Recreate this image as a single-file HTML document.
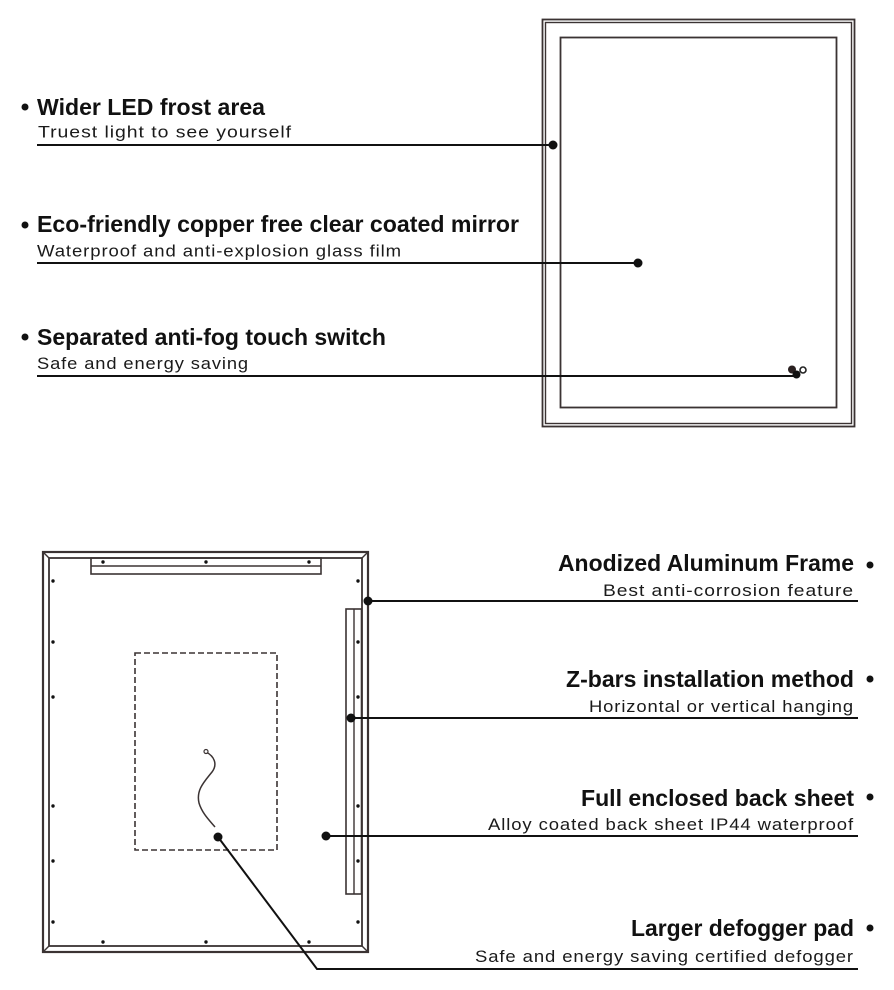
<!DOCTYPE html>
<html>
<head>
<meta charset="utf-8">
<style>
  html, body { margin: 0; padding: 0; background: #ffffff; }
  svg { display: block; }
  .h { font-family: "Liberation Sans", Arial, sans-serif; font-weight: bold; font-size: 23px; fill: #111; }
  .s { font-family: "Liberation Sans", Arial, sans-serif; font-size: 16.5px; letter-spacing: 0.8px; fill: #1a1a1a; }
  .fr { fill: none; stroke: #3b3333; }
  .ln { stroke: #111; stroke-width: 2; fill: none; }
</style>
</head>
<body>
<svg width="894" height="990" viewBox="0 0 894 990" xmlns="http://www.w3.org/2000/svg">
  <rect x="0" y="0" width="894" height="990" fill="#fff"/>

  <!-- ===== Top mirror (front) ===== -->
  <rect class="fr" x="542.5" y="19.5" width="312" height="407" stroke-width="1.8"/>
  <rect class="fr" x="545.5" y="22.5" width="306" height="401" stroke-width="1.4"/>
  <rect class="fr" x="560.5" y="37.5" width="276" height="370" stroke-width="1.8"/>

  <!-- Top left labels -->
  <circle cx="25" cy="107" r="3.5" fill="#111"/>
  <text class="h" x="37" y="115" textLength="228" lengthAdjust="spacingAndGlyphs">Wider LED frost area</text>
  <text class="s" x="38" y="137.5" textLength="254" lengthAdjust="spacingAndGlyphs">Truest light to see yourself</text>
  <line class="ln" x1="37" y1="145" x2="553" y2="145"/>
  <circle cx="553" cy="145" r="4.5" fill="#111"/>

  <circle cx="25" cy="225" r="3.5" fill="#111"/>
  <text class="h" x="37" y="232" textLength="482" lengthAdjust="spacingAndGlyphs">Eco-friendly copper free clear coated mirror</text>
  <text class="s" x="37" y="256.5" textLength="365" lengthAdjust="spacingAndGlyphs">Waterproof and anti-explosion glass film</text>
  <line class="ln" x1="37" y1="263" x2="638" y2="263"/>
  <circle cx="638" cy="263" r="4.5" fill="#111"/>

  <circle cx="25" cy="337" r="3.5" fill="#111"/>
  <text class="h" x="37" y="345" textLength="349" lengthAdjust="spacingAndGlyphs">Separated anti-fog touch switch</text>
  <text class="s" x="37" y="369" textLength="212" lengthAdjust="spacingAndGlyphs">Safe and energy saving</text>
  <line class="ln" x1="37" y1="376" x2="796" y2="376"/>
  <circle cx="792" cy="369.5" r="4" fill="#2a2020"/>
  <circle cx="796.5" cy="374.5" r="4" fill="#111"/>
  <circle cx="803" cy="370" r="3" fill="#fff" stroke="#222" stroke-width="1.6"/>

  <!-- ===== Bottom mirror (back) ===== -->
  <rect class="fr" x="43" y="552" width="325" height="400" stroke-width="2.2"/>
  <rect class="fr" x="49" y="558" width="313" height="388" stroke-width="1.8"/>
  <line class="fr" x1="43" y1="552" x2="49" y2="558" stroke-width="1.4"/>
  <line class="fr" x1="368" y1="552" x2="362" y2="558" stroke-width="1.4"/>
  <line class="fr" x1="43" y1="952" x2="49" y2="946" stroke-width="1.4"/>
  <line class="fr" x1="368" y1="952" x2="362" y2="946" stroke-width="1.4"/>

  <!-- top bar -->
  <rect class="fr" x="91" y="558" width="230" height="16" stroke-width="1.6"/>
  <line class="fr" x1="91" y1="566" x2="321" y2="566" stroke-width="1.4"/>
  <!-- right z-bar -->
  <rect class="fr" x="346" y="609" width="15.5" height="285" stroke-width="1.6"/>
  <line class="fr" x1="354" y1="609" x2="354" y2="894" stroke-width="1.4"/>

  <!-- screws -->
  <g fill="#111">
    <circle cx="103" cy="562" r="1.7"/><circle cx="206" cy="562" r="1.7"/><circle cx="309" cy="562" r="1.7"/>
    <circle cx="103" cy="942" r="1.7"/><circle cx="206" cy="942" r="1.7"/><circle cx="309" cy="942" r="1.7"/>
    <circle cx="53" cy="581" r="1.7"/><circle cx="53" cy="642" r="1.7"/><circle cx="53" cy="697" r="1.7"/>
    <circle cx="53" cy="806" r="1.7"/><circle cx="53" cy="861" r="1.7"/><circle cx="53" cy="922" r="1.7"/>
    <circle cx="358" cy="581" r="1.7"/><circle cx="358" cy="642" r="1.7"/><circle cx="358" cy="697" r="1.7"/>
    <circle cx="358" cy="806" r="1.7"/><circle cx="358" cy="861" r="1.7"/><circle cx="358" cy="922" r="1.7"/>
  </g>

  <!-- dashed defogger pad -->
  <rect x="135" y="653" width="142" height="197" fill="none" stroke="#3b3333" stroke-width="1.6" stroke-dasharray="6,3"/>
  <!-- wire -->
  <path d="M206,752 C214,756 218,764 212,772 C204,782 196,790 199,803 C202,813 209,820 215,827" fill="none" stroke="#3b3333" stroke-width="1.5"/>
  <circle cx="206" cy="751.5" r="2" fill="#fff" stroke="#3b3333" stroke-width="1.2"/>

  <!-- Right labels -->
  <text class="h" x="558" y="571" textLength="296" lengthAdjust="spacingAndGlyphs">Anodized Aluminum Frame</text>
  <circle cx="870" cy="565" r="3.5" fill="#111"/>
  <text class="s" x="603" y="596" textLength="251" lengthAdjust="spacingAndGlyphs">Best anti-corrosion feature</text>
  <line class="ln" x1="368" y1="601" x2="858" y2="601"/>
  <circle cx="368" cy="601" r="4.5" fill="#111"/>

  <text class="h" x="566" y="687" textLength="288" lengthAdjust="spacingAndGlyphs">Z-bars installation method</text>
  <circle cx="870" cy="679" r="3.5" fill="#111"/>
  <text class="s" x="589" y="712" textLength="265" lengthAdjust="spacingAndGlyphs">Horizontal or vertical hanging</text>
  <line class="ln" x1="351" y1="718" x2="858" y2="718"/>
  <circle cx="351" cy="718" r="4.5" fill="#111"/>

  <text class="h" x="581" y="806" textLength="273" lengthAdjust="spacingAndGlyphs">Full enclosed back sheet</text>
  <circle cx="870" cy="797" r="3.5" fill="#111"/>
  <text class="s" x="488" y="830" textLength="366" lengthAdjust="spacingAndGlyphs">Alloy coated back sheet IP44 waterproof</text>
  <line class="ln" x1="326" y1="836" x2="858" y2="836"/>
  <circle cx="326" cy="836" r="4.5" fill="#111"/>

  <text class="h" x="631" y="936" textLength="223" lengthAdjust="spacingAndGlyphs">Larger defogger pad</text>
  <circle cx="870" cy="928" r="3.5" fill="#111"/>
  <text class="s" x="475" y="962" textLength="379" lengthAdjust="spacingAndGlyphs">Safe and energy saving certified defogger</text>
  <polyline class="ln" points="218,837 317,969 858,969"/>
  <circle cx="218" cy="837" r="4.5" fill="#111"/>
</svg>
</body>
</html>
